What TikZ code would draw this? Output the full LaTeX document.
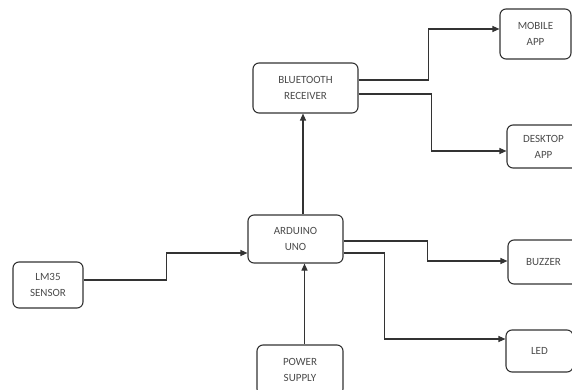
\documentclass[tikz,border=0pt]{standalone}
\usepackage{fontspec}
\setmainfont{Carlito}
\usetikzlibrary{arrows.meta}
\definecolor{linegray}{HTML}{333333}
\definecolor{textgray}{HTML}{4A4A4A}
\tikzset{
  blk/.style={draw=linegray, line width=1.1pt, rounded corners=6pt, inner sep=0pt,
    align=center, text=textgray, font=\fontsize{11}{16}\selectfont},
  conn/.style={draw=linegray, line width=1.1pt, -{Triangle[length=7pt,width=6pt]}},
}
\begin{document}
\begin{tikzpicture}[x=1pt,y=-1pt]
\clip (0,0) rectangle (572,390);
\node[blk, minimum width=105pt, minimum height=50pt] (bt) at (305.5,88) {BLUETOOTH\\RECEIVER};
\node[blk, minimum width=71pt, minimum height=50pt] (mob) at (535.5,34) {MOBILE\\APP};
\node[blk, minimum width=73pt, minimum height=43pt] (desk) at (543.5,146.5) {DESKTOP\\APP};
\node[blk, minimum width=95pt, minimum height=48pt] (ard) at (295.5,239) {ARDUINO\\UNO};
\node[blk, minimum width=70pt, minimum height=46pt] (lm) at (48,285) {LM35\\SENSOR};
\node[blk, minimum width=71pt, minimum height=44pt] (buz) at (543.5,262) {BUZZER};
\node[blk, minimum width=67pt, minimum height=42pt] (led) at (539.5,351) {LED};
\node[blk, minimum width=86pt, minimum height=50pt] (pw) at (300,370) {POWER\\SUPPLY};

\draw[conn] ([yshift=5pt]lm.east) -- ++(83,0) |- ([yshift=-14pt]ard.west);
\draw[conn] ([xshift=4.5pt]pw.north) -- ([xshift=4.5pt]pw.north |- ard.south);
\draw[conn] ([xshift=7.5pt]ard.north) -- ([xshift=7.5pt]ard.north |- bt.south);
\draw[conn] ([yshift=8pt]bt.east) -- ++(70,0) |- ([yshift=5pt]mob.west);
\draw[conn] ([yshift=-6pt]bt.east) -- ++(73,0) |- ([yshift=-4.5pt]desk.west);
\draw[conn] ([yshift=-2pt]ard.east) -- ++(84,0) |- ([yshift=1pt]buz.west);
\draw[conn] ([yshift=-14pt]ard.east) -- ++(41,0) |- ([yshift=12pt]led.west);
\end{tikzpicture}
\end{document}
